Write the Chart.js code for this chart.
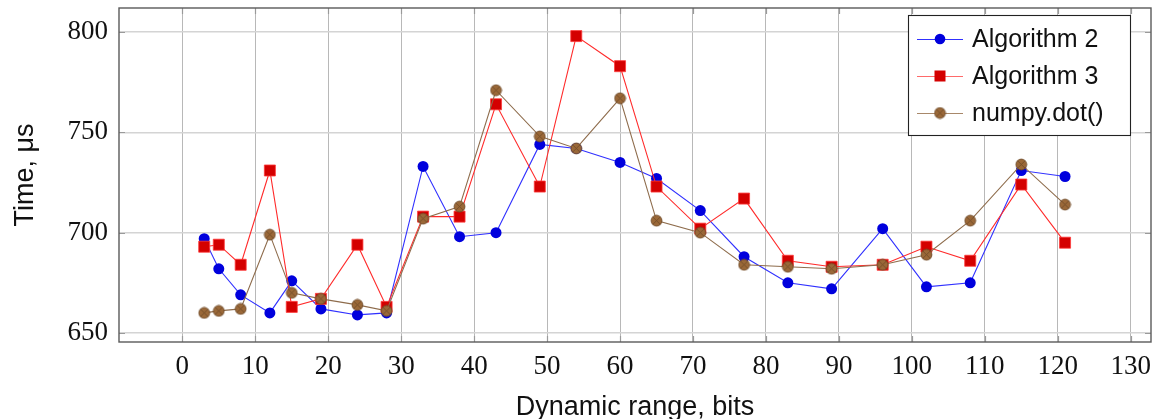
<!DOCTYPE html>
<html><head><meta charset="utf-8">
<script src="https://cdn.jsdelivr.net/npm/chart.js@4/dist/chart.umd.min.js"></script>
<style>html,body{margin:0;padding:0;background:#fff}#wrap{width:1154px;height:419px;position:relative}</style>
</head><body><div id="wrap"><canvas id="c" width="1154" height="419"></canvas></div>
<script>
// ---- data ----
const bits = [3,5,8,12,15,19,24,28,33,38,43,49,54,60,65,71,77,83,89,96,102,108,115,121];
const algorithm2 = [697,682,669,660,676,662,659,660,733,698,700,744,742,735,727,711,688,675,672,702,673,675,731,728];
const algorithm3 = [693,694,684,731,663,667,694,663,708,708,764,723,798,783,723,702,717,686,683,684,693,686,724,695];
const numpyDot   = [660,661,662,699,670,667,664,661,707,713,771,748,742,767,706,700,684,683,682,684,689,706,734,714];
const seriesLabels = ['Algorithm 2','Algorithm 3','numpy.dot()'];
const xTicks = [0,10,20,30,40,50,60,70,80,90,100,110,120,130];
const yTicks = [650,700,750,800];
const xTitle = 'Dynamic range, bits';
const yTitle = 'Time, \u03BCs';

// ---- styles ----
function circleCross(){
  const c = document.createElement('canvas'); c.width = 13; c.height = 13;
  const g = c.getContext('2d');
  g.beginPath(); g.arc(6.5,6.5,5.4,0,Math.PI*2);
  g.fillStyle = '#9a6838'; g.fill();
  g.strokeStyle = '#6e4a28'; g.lineWidth = 0.9; g.stroke();
  g.beginPath();
  const r = 5.4*0.7071;
  g.moveTo(6.5-r,6.5-r); g.lineTo(6.5+r,6.5+r);
  g.moveTo(6.5+r,6.5-r); g.lineTo(6.5-r,6.5+r);
  g.lineWidth = 0.8; g.stroke();
  return c;
}
const brownMarker = circleCross();
const pts = ys => bits.map((x,i)=>({x:x,y:ys[i]}));

const datasets = [
  {label:seriesLabels[0], data:pts(algorithm2), borderColor:'#3030ff', borderWidth:1.1,
   pointStyle:'circle', pointRadius:5.5, pointBackgroundColor:'#0000dd', pointBorderColor:'#0000dd', pointBorderWidth:0, order:3},
  {label:seriesLabels[1], data:pts(algorithm3), borderColor:'#ff2a2a', borderWidth:1.1,
   pointStyle:'rect', pointRadius:7.8, pointBackgroundColor:'#d40000', pointBorderColor:'#ff3a3a', pointBorderWidth:0.8, order:2},
  {label:seriesLabels[2], data:pts(numpyDot), borderColor:'#8e6c4c', borderWidth:1.1,
   pointStyle:brownMarker, pointRadius:6, order:1}
];
datasets.forEach(d=>{d.tension=0; d.fill=false; d.pointHoverRadius=d.pointRadius;});

const tickFont = {family:'"Liberation Serif", "DejaVu Serif", serif', size:27};
const sansFont = {family:'"Liberation Sans", Arial, sans-serif', size:27};

const framePlugin = {
  id:'frame',
  afterDraw(chart){
    const {ctx, chartArea:a, scales} = chart;
    ctx.save();
    // inward tick marks
    ctx.strokeStyle = '#9a9a9a'; ctx.lineWidth = 1.2;
    const L = 6;
    yTicks.forEach(v=>{
      const y = Math.round(scales.y.getPixelForValue(v))+0.5;
      ctx.beginPath(); ctx.moveTo(a.left,y); ctx.lineTo(a.left+L,y);
      ctx.moveTo(a.right,y); ctx.lineTo(a.right-L,y); ctx.stroke();
    });
    xTicks.forEach(v=>{
      const x = Math.round(scales.x.getPixelForValue(v))+0.5;
      ctx.beginPath(); ctx.moveTo(x,a.bottom); ctx.lineTo(x,a.bottom-L);
      ctx.moveTo(x,a.top); ctx.lineTo(x,a.top+L); ctx.stroke();
    });
    ctx.strokeStyle = '#5a5a5a'; ctx.lineWidth = 1.4;
    ctx.strokeRect(a.left, a.top, a.right-a.left, a.bottom-a.top);
    // legend
    const bx = 908, by = 15, bw = 222, bh = 120;
    ctx.fillStyle = '#fff'; ctx.fillRect(bx,by,bw,bh);
    ctx.strokeStyle = '#222'; ctx.lineWidth = 1.1; ctx.strokeRect(bx+0.5,by+0.5,bw,bh);
    const rows = [39,76,113];
    const legLine = ['#3030ff','#ff6a6a','#a8886a'];
    chart.data.datasets.forEach((d,i)=>{
      const y = rows[i];
      ctx.strokeStyle = legLine[i]; ctx.lineWidth = 1.2;
      ctx.beginPath(); ctx.moveTo(917,y+0.5); ctx.lineTo(963,y+0.5); ctx.stroke();
      if(i===0){ ctx.beginPath(); ctx.arc(940,y,5.3,0,Math.PI*2); ctx.fillStyle='#0000dd'; ctx.fill(); }
      else if(i===1){ ctx.fillStyle='#d40000'; ctx.fillRect(934.5,y-5.5,11,11); }
      else { ctx.drawImage(brownMarker, 940-6.5, y-6.5); }
      ctx.fillStyle = '#111'; ctx.font = '25px "Liberation Sans", Arial, sans-serif';
      ctx.textBaseline = 'middle'; ctx.textAlign = 'left';
      ctx.fillText(d.label, 972, y+1);
    });
    ctx.restore();
  }
};

new Chart(document.getElementById('c'), {
  type:'line',
  data:{datasets:datasets},
  plugins:[framePlugin],
  options:{
    responsive:false, animation:false, devicePixelRatio:1,
    layout:{autoPadding:false, padding:{top:8,right:3,left:0,bottom:0}},
    plugins:{legend:{display:false}, tooltip:{enabled:false}},
    scales:{
      x:{type:'linear', min:-8.68, max:132.78,
        afterBuildTicks: s=>{ s.ticks = xTicks.map(v=>({value:v})); },
        afterFit: s=>{ s.height = 77; s.paddingLeft = 0; s.paddingRight = 0; },
        grid:{color:'#b8b8b8', lineWidth:1, drawTicks:false},
        border:{display:false},
        ticks:{font:tickFont, color:'#111', padding:9, maxRotation:0, autoSkip:false},
        title:{display:true, text:xTitle, font:Object.assign({lineHeight:0.83}, sansFont), color:'#111', padding:{top:0,bottom:0}}
      },
      y:{type:'linear', min:645.5, max:812,
        afterBuildTicks: s=>{ s.ticks = yTicks.map(v=>({value:v})); },
        afterFit: s=>{ s.width = 119; s.paddingTop = 0; s.paddingBottom = 0; },
        grid:{color:'#d4d4d4', lineWidth:1.5, drawTicks:false},
        border:{display:false},
        ticks:{font:tickFont, color:'#111', padding:11},
        title:{display:true, text:yTitle, font:sansFont, color:'#111', padding:{top:9,bottom:0}}
      }
    }
  }
});
</script></body></html>
